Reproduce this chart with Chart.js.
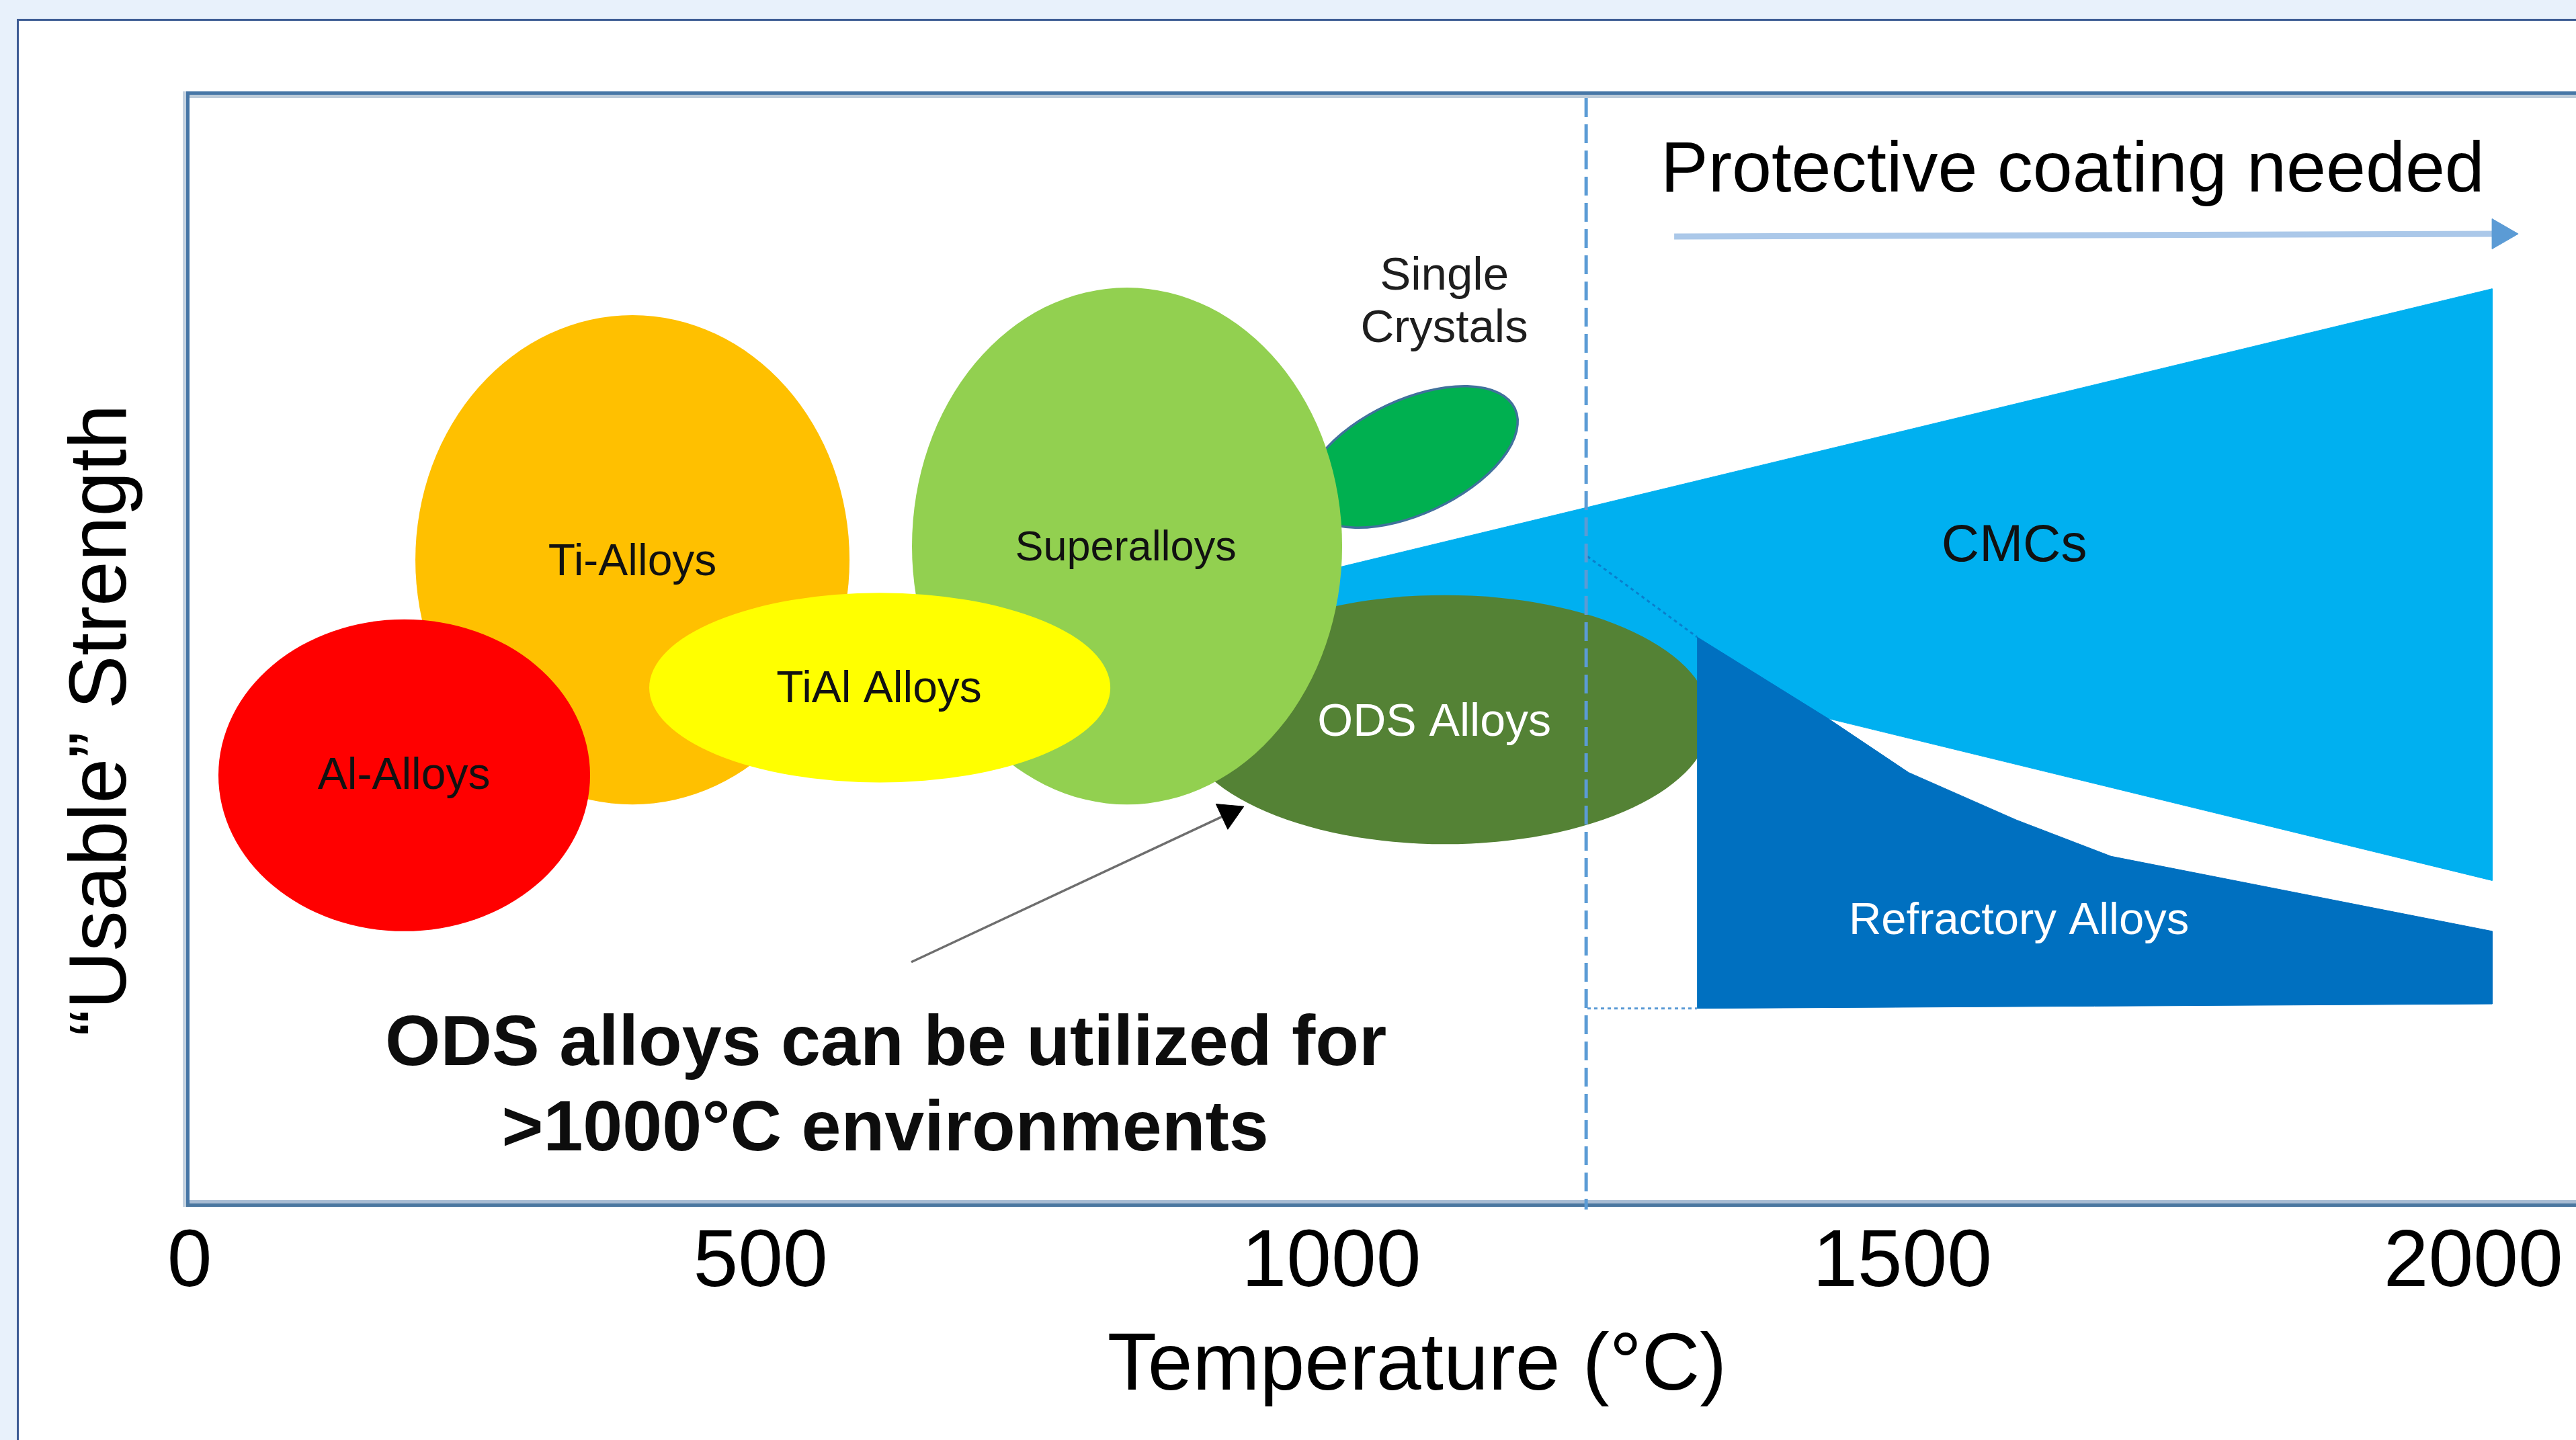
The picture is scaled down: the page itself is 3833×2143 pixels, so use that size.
<!DOCTYPE html>
<html>
<head>
<meta charset="utf-8">
<script src="https://cdn.jsdelivr.net/npm/chart.js@4.4.1/dist/chart.umd.min.js"></script>
<style>
  html, body { margin:0; padding:0; overflow:hidden; width:3833px; height:2143px; background:#e8f1fb; }
  #wrap { position:absolute; left:0; top:0; width:3962px; height:2143px; }
</style>
</head>
<body>
<div id="wrap"><canvas id="c"></canvas></div>
<script>
// ---------------- DATA ----------------
const tempTicks      = [0, 500, 1000, 1500, 2000];
const tempTickLabels = ['0', '500', '1000', '1500', '2000'];

// material regions: temperature range (°C) and relative "usable" strength range
const materials    = ['Al-Alloys', 'Ti-Alloys', 'TiAl Alloys', 'Superalloys', 'Single Crystals', 'ODS Alloys'];
const tempLow      = [25.3, 197.8, 402.6, 632.7, 969.9, 867.0];
const tempHigh     = [350.8, 578.0, 806.4, 1009.4, 1170.1, 1332.0];
const strengthLow  = [24.4, 35.9, 37.9, 35.9, 62.26, 32.3];
const strengthHigh = [52.7, 80.3, 55.1, 82.8, 72.62, 54.9];
const tiltDeg      = [0, 0, 0, 0, -25, 0];

// CMC band (outline in temperature / strength)
const cmcTemp     = [987.6, 2016.5, 2016.5, 1435.0, 987.6];
const cmcStrength = [56.95, 82.7, 29.0, 43.7, 52.5];

// Refractory alloys band
const refractoryTemp     = [1320.2, 1435.0, 1505.6, 1599.8, 1682.8, 2016.5, 2016.5, 1320.2];
const refractoryStrength = [51.1, 43.7, 38.8, 34.5, 31.2, 24.4, 17.8, 17.4];

// temperature above which protective coating is needed
const coatingLimitTemp = 1223.1;

// ---------------- STYLE / ANNOTATION CONFIG ----------------
const FONT = "'Liberation Sans', Arial, Helvetica, sans-serif";
const materialColors = ['#ff0000', '#ffc000', '#ffff00', '#92d050', '#00b050', '#548235'];
const drawOrder = [5, 4, 3, 1, 0, 2];   // bottom -> top

const annot = {
  protectiveArrow: [{x:1300.2, y:87.44}, {x:2024.1, y:87.68}],
  odsArrow:        [{x:632.1, y:21.6}, {x:910.5, y:35.1}],
  refrDotTop:      [{x:1224.2, y:58.41}, {x:1320.2, y:51.1}],
  refrDotBottom:   [{x:1224.2, y:17.4}, {x:1320.2, y:17.4}],
  labels: [
    {text:'Al-Alloys',         x:187.8,  y:38.4, size:66, color:'#111111'},
    {text:'Ti-Alloys',         x:387.9,  y:57.8, size:66, color:'#111111'},
    {text:'TiAl Alloys',       x:603.9,  y:46.3, size:66, color:'#111111'},
    {text:'Superalloys',       x:819.9,  y:59.1, size:63, color:'#111111'},
    {text:'Single',            x:1098.9, y:83.8, size:69, color:'#1e1e1e'},
    {text:'Crystals',          x:1098.9, y:79.0, size:69, color:'#1e1e1e'},
    {text:'CMCs',              x:1598.0, y:59.3, size:78, color:'#111111'},
    {text:'ODS Alloys',        x:1090.1, y:43.3, size:68, color:'#ffffff'},
    {text:'Refractory Alloys', x:1602.1, y:25.3, size:67, color:'#ffffff'}
  ],
  caption: [
    {text:'ODS alloys can be utilized for', x:609.8, y:12.26},
    {text:'>1000°C environments',           x:609.2, y:4.51}
  ],
  protectiveText: {text:'Protective coating needed', x:1288.4, y:91.52}
};

const pts = (xs, ys) => xs.map((v, i) => ({x: v, y: ys[i]}));

// ---------------- PLUGINS ----------------
const backgroundPlugin = {
  id: 'bgFrame',
  beforeDraw(chart) {
    const {ctx, width, height, chartArea: a} = chart;
    ctx.save();
    ctx.fillStyle = '#e8f1fb'; ctx.fillRect(0, 0, width, height);
    ctx.fillStyle = '#ffffff'; ctx.fillRect(28, 31, width - 28, height - 31);
    ctx.fillStyle = '#3d5c94';
    ctx.fillRect(25, 28, width - 25, 3);
    ctx.fillRect(25, 28, 3, height - 28);
    const h = a.bottom - a.top;
    ctx.fillStyle = '#c4d2e0'; ctx.fillRect(a.left - 10, a.top - 10, 5, h + 20);
    ctx.fillStyle = '#bccbd9'; ctx.fillRect(a.left, a.top - 5, width, 5);
    ctx.fillStyle = '#a8bcd3'; ctx.fillRect(a.left, a.bottom, width, 5);
    ctx.fillStyle = '#4676a6';
    ctx.fillRect(a.left - 5, a.top - 10, width, 5);
    ctx.fillRect(a.left - 5, a.top - 10, 5, h + 20);
    ctx.fillStyle = '#4a77a0'; ctx.fillRect(a.left - 5, a.bottom + 5, width, 5);
    ctx.restore();
  }
};

const materialsPlugin = {
  id: 'materials',
  afterDatasetDraw(chart, args) {
    if (chart.data.datasets[args.index].label !== 'CMCs') return;
    const {ctx, scales: {x, y}, chartArea: a} = chart;
    ctx.save();
    ctx.beginPath(); ctx.rect(a.left, a.top, a.right - a.left, a.bottom - a.top); ctx.clip();
    for (const i of drawOrder) {
      const cx = x.getPixelForValue((tempLow[i] + tempHigh[i]) / 2);
      const cy = y.getPixelForValue((strengthLow[i] + strengthHigh[i]) / 2);
      const rx = Math.abs(x.getPixelForValue(tempHigh[i]) - x.getPixelForValue(tempLow[i])) / 2;
      const ry = Math.abs(y.getPixelForValue(strengthHigh[i]) - y.getPixelForValue(strengthLow[i])) / 2;
      ctx.beginPath();
      ctx.ellipse(cx, cy, rx, ry, tiltDeg[i] * Math.PI / 180, 0, Math.PI * 2);
      ctx.fillStyle = materialColors[i];
      ctx.fill();
      if (materials[i] === 'Single Crystals') {
        ctx.lineWidth = 3.5; ctx.strokeStyle = '#41719c'; ctx.stroke();
      }
    }
    ctx.restore();
  }
};

const textPlugin = {
  id: 'texts',
  afterDraw(chart) {
    const {ctx, scales: {x, y}, chartArea: a} = chart;
    ctx.save();
    ctx.textAlign = 'center'; ctx.textBaseline = 'middle';
    for (const l of annot.labels) {
      ctx.font = `${l.size}px ${FONT}`;
      ctx.fillStyle = l.color;
      ctx.fillText(l.text, x.getPixelForValue(l.x), y.getPixelForValue(l.y));
    }
    ctx.textBaseline = 'alphabetic';
    ctx.font = `bold 106px ${FONT}`;
    ctx.fillStyle = '#0d0d0d';
    for (const c of annot.caption) ctx.fillText(c.text, x.getPixelForValue(c.x), y.getPixelForValue(c.y));
    ctx.textAlign = 'left';
    ctx.font = `106px ${FONT}`;
    ctx.fillStyle = '#000000';
    const p = annot.protectiveText;
    ctx.fillText(p.text, x.getPixelForValue(p.x), y.getPixelForValue(p.y));
    // y-axis title
    ctx.translate(a.left - 95, (a.top + a.bottom) / 2 + 106);
    ctx.rotate(-Math.PI / 2);
    ctx.textAlign = 'center';
    ctx.font = `120px ${FONT}`;
    ctx.fillText('\u201CUsable\u201D Strength', 0, 0);
    ctx.restore();
  }
};

// ---------------- CHART ----------------
const ctx = document.getElementById('c').getContext('2d');
new Chart(ctx, {
  type: 'line',
  data: {
    datasets: [
      { label: 'Protective coating arrow', data: annot.protectiveArrow, order: 0,
        borderColor: '#abc8e9', borderWidth: 9, pointStyle: 'triangle',
        pointRadius: [0, 26], pointRotation: [0, 90],
        pointBackgroundColor: '#5b9bd5', pointBorderColor: '#5b9bd5', pointBorderWidth: 1, fill: false },
      { label: 'ODS arrow', data: annot.odsArrow, order: 0,
        borderColor: '#6e6e6e', borderWidth: 3.5, pointStyle: 'triangle',
        pointRadius: [0, 24], pointRotation: [0, 65],
        pointBackgroundColor: '#000000', pointBorderColor: '#000000', pointBorderWidth: 1, fill: false },
      { label: 'Coating limit', data: [{x: coatingLimitTemp, y: 100}, {x: coatingLimitTemp, y: -0.85}], order: 1,
        borderColor: '#5b9bd5', borderWidth: 5, borderDash: [28, 11], pointRadius: 0, fill: false, clip: false },
      { label: 'Refractory outline top', data: annot.refrDotTop, order: 2,
        borderColor: '#0a7fcc', borderWidth: 3, borderDash: [5, 5], pointRadius: 0, fill: false },
      { label: 'Refractory outline bottom', data: annot.refrDotBottom, order: 2,
        borderColor: '#5b9bd5', borderWidth: 3, borderDash: [5, 5], pointRadius: 0, fill: false },
      { label: 'Refractory Alloys', data: pts(refractoryTemp, refractoryStrength), order: 5,
        borderColor: '#0070c0', borderWidth: 1, backgroundColor: '#0070c0', fill: 'shape', pointRadius: 0, tension: 0 },
      { label: 'CMCs', data: pts(cmcTemp, cmcStrength), order: 10,
        borderColor: '#00b0f0', borderWidth: 1, backgroundColor: '#00b0f0', fill: 'shape', pointRadius: 0, tension: 0 }
    ]
  },
  options: {
    responsive: true, maintainAspectRatio: false, animation: false, events: [],
    layout: { padding: { left: 282, top: 146, right: 0, bottom: 0 } },
    plugins: { legend: { display: false }, tooltip: { enabled: false } },
    scales: {
      x: {
        type: 'linear', min: 0, max: 2150, position: 'bottom',
        grid: { display: false, drawTicks: false }, border: { display: false },
        afterBuildTicks: s => { s.ticks = tempTicks.map(v => ({value: v})); },
        afterFit: s => { s.height = 357; },
        ticks: { autoSkip: false, maxRotation: 0, minRotation: 0, padding: 23, color: '#000000',
                 font: { family: FONT, size: 120 },
                 callback: (v, i) => tempTickLabels[i] },
        title: { display: true, text: 'Temperature (°C)', color: '#000000',
                 font: { family: FONT, size: 120 }, padding: { top: 0, bottom: 36 } }
      },
      y: { type: 'linear', min: 0, max: 100, display: false }
    }
  },
  plugins: [backgroundPlugin, materialsPlugin, textPlugin]
});
</script>
</body>
</html>
